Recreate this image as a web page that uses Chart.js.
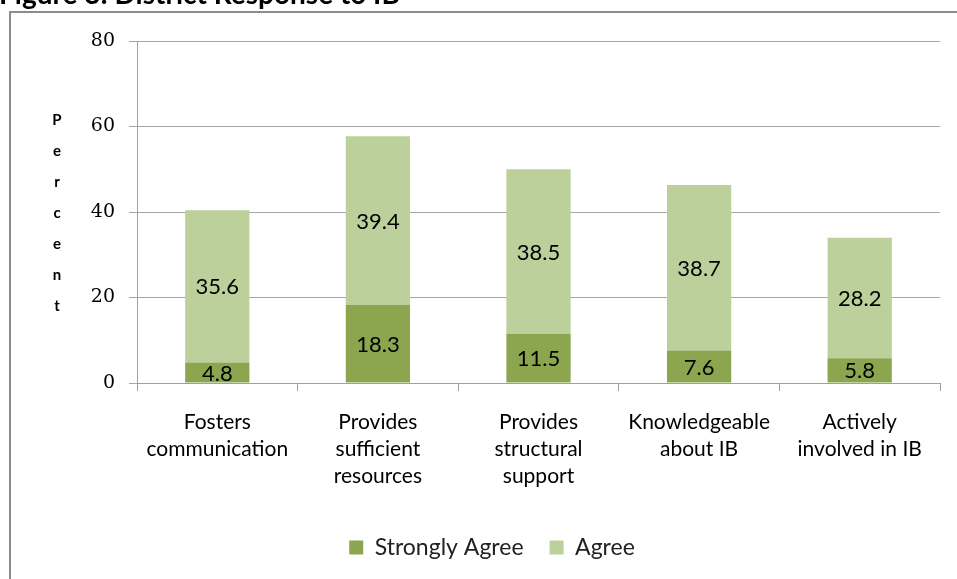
<!DOCTYPE html>
<html>
<head>
<meta charset="utf-8">
<script src="https://cdn.jsdelivr.net/npm/chart.js@4/dist/chart.umd.min.js"></script>
<style>
  html, body { margin: 0; padding: 0; background: #fff; }
  #wrap { width: 957px; height: 579px; position: relative; }
</style>
</head>
<body>
<div id="wrap"><canvas id="chart" width="957" height="579"></canvas></div>
<script>
'use strict';

// data
const categories = [
    ['Fosters', 'communication'],
    ['Provides', 'sufficient', 'resources'],
    ['Provides', 'structural', 'support'],
    ['Knowledgeable', 'about IB'],
    ['Actively', 'involved in IB']
];
const stronglyAgree = [4.8, 18.3, 11.5, 7.6, 5.8];
const agree = [35.6, 39.4, 38.5, 38.7, 28.2];
const yTicks = [0, 20, 40, 60, 80];

const titleText = 'Figure 3: District Response to IB';
const axisTitle = 'Percent';

const sansFont = "Lato, 'Open Sans', sans-serif";
const serifFont = "'DejaVu Serif', 'Liberation Serif', serif";

// frame, cut-off title and the stacked "Percent" letters
const decorPlugin = {
    id: 'decor',
    beforeDraw(chart) {
        const ctx = chart.ctx;
        ctx.save();
        ctx.fillStyle = '#fff';
        ctx.fillRect(0, 0, chart.width, chart.height);
        ctx.strokeStyle = '#8c8c8c';
        ctx.lineWidth = 2;
        ctx.strokeRect(10, 12, 1000, 700);
        ctx.fillStyle = '#000';
        ctx.font = "bold 28px " + sansFont;
        ctx.textBaseline = 'alphabetic';
        ctx.textAlign = 'left';
        ctx.fillText(titleText, -1, 4);
        ctx.font = "bold 15px " + sansFont;
        ctx.textAlign = 'center';
        ctx.textBaseline = 'middle';
        axisTitle.split('').forEach((ch, i) => {
            ctx.fillText(ch, 57, 120 + i * 31);
        });
        ctx.restore();
    },
    // Excel put the legend a little right of centre
    afterLayout(chart) {
        if (chart.legend) {
            chart.legend.left += 22;
            chart.legend.right += 22;
        }
    }
};

// numbers centred in every bar segment
const valueLabels = {
    id: 'valueLabels',
    afterDatasetsDraw(chart) {
        const ctx = chart.ctx;
        ctx.save();
        ctx.fillStyle = '#000';
        ctx.font = "22px " + sansFont;
        ctx.textAlign = 'center';
        ctx.textBaseline = 'middle';
        chart.data.datasets.forEach((ds, di) => {
            chart.getDatasetMeta(di).data.forEach((bar, i) => {
                const mid = (bar.y + bar.base) / 2;
                ctx.fillText(ds.data[i].toFixed(1), bar.x, mid + 1);
            });
        });
        ctx.restore();
    }
};

new Chart(document.getElementById('chart').getContext('2d'), {
    type: 'bar',
    data: {
        labels: categories,
        datasets: [
            {
                label: 'Strongly Agree',
                data: stronglyAgree,
                backgroundColor: '#8ba64f',
                borderWidth: 0
            },
            {
                label: 'Agree',
                data: agree,
                backgroundColor: '#bbd09a',
                borderWidth: 0
            }
        ]
    },
    options: {
        responsive: false,
        animation: false,
        events: [],
        layout: { padding: { left: 0, top: 41, right: 17, bottom: 10 } },
        datasets: { bar: { categoryPercentage: 1, barPercentage: 0.4 } },
        plugins: {
            tooltip: { enabled: false },
            legend: {
                position: 'bottom',
                labels: {
                    color: '#222',
                    font: { family: sansFont, size: 23 },
                    boxWidth: 14,
                    boxHeight: 14,
                    padding: 26
                }
            }
        },
        scales: {
            x: {
                stacked: true,
                afterFit: (scale) => { scale.height = 127; },
                grid: {
                    offset: true,
                    drawOnChartArea: false,
                    drawTicks: true,
                    tickLength: 8,
                    color: '#a0a0a0'
                },
                border: { color: '#a0a0a0', width: 1 },
                ticks: {
                    color: '#000',
                    padding: 18,
                    maxRotation: 0,
                    autoSkip: false,
                    font: { family: sansFont, size: 21, lineHeight: 1.28 }
                }
            },
            y: {
                stacked: true,
                min: 0,
                max: 80,
                afterFit: (scale) => { scale.width = 137; },
                afterBuildTicks: (scale) => {
                    scale.ticks = yTicks.map(v => ({ value: v }));
                },
                grid: {
                    color: '#a6a6a6',
                    tickLength: 8,
                    drawTicks: true
                },
                border: { color: '#a0a0a0', width: 1 },
                ticks: {
                    color: '#000',
                    padding: 14,
                    font: { family: serifFont, size: 19 }
                }
            }
        }
    },
    plugins: [decorPlugin, valueLabels]
});
</script>
</body>
</html>
